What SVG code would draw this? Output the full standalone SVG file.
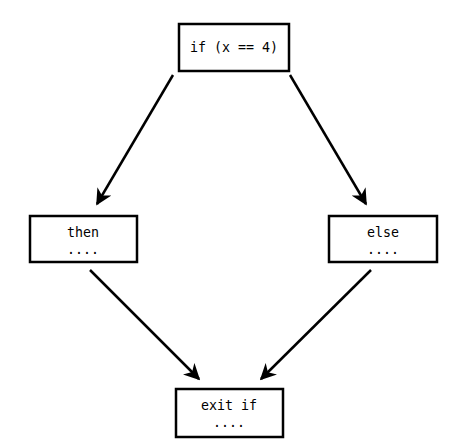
<svg xmlns="http://www.w3.org/2000/svg" width="464" height="445" viewBox="0 0 464 445">
<defs>
<style>
.box{fill:#fff;stroke:#000;stroke-width:2.5}
.t{font-family:"DejaVu Sans Mono",monospace;font-size:13.3px;fill:#000;text-anchor:middle}
.c{stroke:#000;stroke-width:2.5;fill:none;marker-end:url(#ah)}
</style>
<marker id="ah" viewBox="0 0 10 10" refX="9" refY="5" markerWidth="6.5" markerHeight="6.5" orient="auto" markerUnits="strokeWidth">
<path d="M0,0 L10,5 L0,10 L3,5 z" fill="#000"/>
</marker>
</defs>
<rect width="464" height="445" fill="#fff"/>
<g id="connectors">
<line class="c" x1="173" y1="75" x2="97" y2="204"/>
<line class="c" x1="290" y1="75" x2="366" y2="204"/>
<line class="c" x1="90" y1="270" x2="199" y2="379"/>
<line class="c" x1="371" y1="270" x2="261" y2="379"/>
</g>
<g id="n-if">
<rect class="box" x="179" y="24" width="110" height="47"/>
<text class="t" x="234" y="52">if (x == 4)</text>
</g>
<g id="n-then">
<rect class="box" x="30" y="216" width="107" height="46"/>
<text class="t" x="83" y="237">then</text>
<text class="t" x="83" y="254">....</text>
</g>
<g id="n-else">
<rect class="box" x="329" y="216" width="108" height="46"/>
<text class="t" x="383" y="237">else</text>
<text class="t" x="383" y="254">....</text>
</g>
<g id="n-exit">
<rect class="box" x="176" y="389" width="107" height="48"/>
<text class="t" x="229" y="410">exit if</text>
<text class="t" x="229" y="427">....</text>
</g>
</svg>
